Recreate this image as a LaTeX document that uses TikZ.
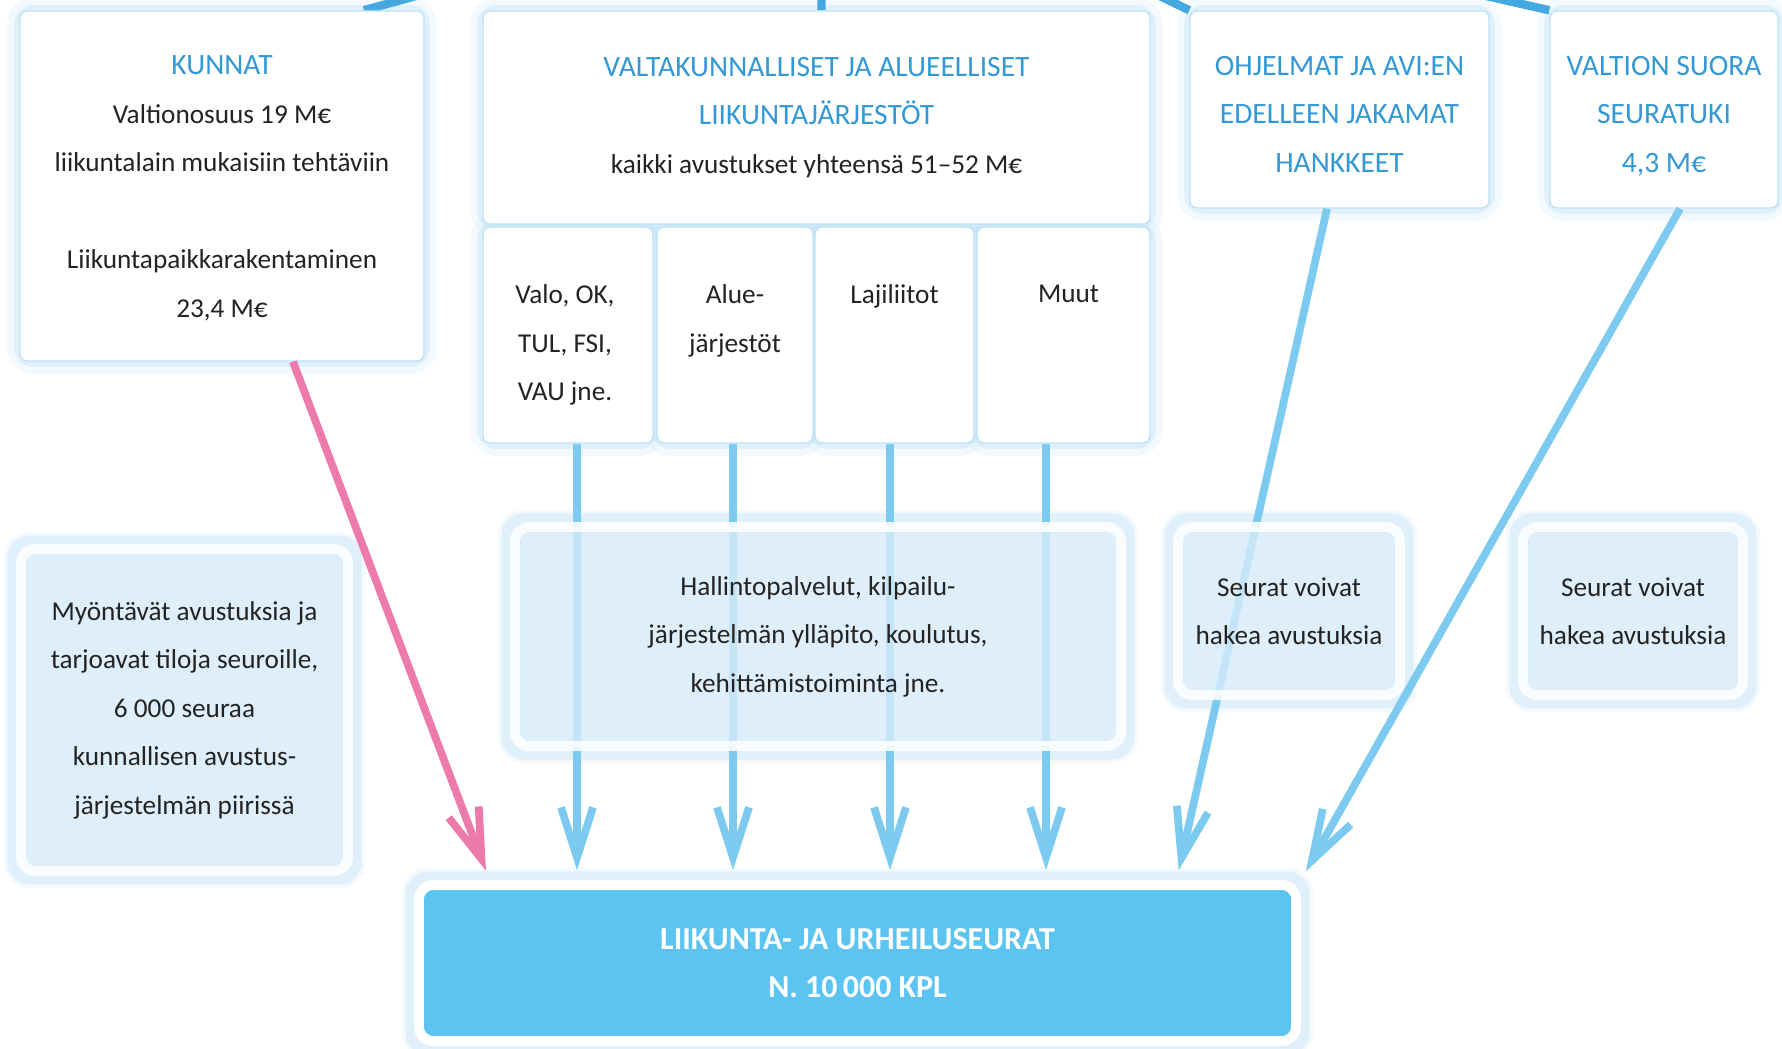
\documentclass[tikz,border=0pt]{standalone}
\usepackage{fontspec}
\setmainfont{Carlito}
\usetikzlibrary{arrows.meta,positioning,calc,backgrounds}

\definecolor{titleblue}{RGB}{52,152,212}
\definecolor{flowblue}{RGB}{125,202,240}
\definecolor{topblue}{RGB}{70,168,224}
\definecolor{flowpink}{RGB}{236,122,170}
\definecolor{paleblue}{RGB}{214,236,250}
\definecolor{clubblue}{RGB}{92,196,240}
\definecolor{glowblue}{RGB}{190,226,246}
\definecolor{inktext}{RGB}{35,35,35}

\newcommand{\ttl}[1]{\textcolor{titleblue}{\fontsize{8.4}{13.8}\selectfont #1}}

\begin{document}
\begin{tikzpicture}
      [font=\fontsize{7.75}{13.8}\selectfont, text=inktext,
       card/.style={rectangle,rounded corners=2pt,draw=glowblue,fill=white,line width=0.4pt,inner sep=0pt,align=center},
       cardtext/.style={anchor=north,align=center,inner sep=0pt},
       note/.style={rectangle,rounded corners=4pt,draw=white,fill=paleblue,line width=2.8pt,inner sep=0pt,align=center,
                    fill opacity=0.8,draw opacity=0.85,text opacity=1},
       club/.style={rectangle,rounded corners=4pt,draw=white,fill=clubblue,line width=2.8pt,inner sep=0pt,align=center,
                    text=white,font=\fontsize{9.1}{13.8}\selectfont\bfseries},
       glow/.style={draw=glowblue,line width=3pt,draw opacity=0.35,rounded corners=4pt,
                    preaction={draw=glowblue,line width=7pt,draw opacity=0.18}},
       flow/.style={draw=flowblue,line width=2.2pt,shorten >=1mm,-{Straight Barb[length=5mm,width=3.2mm]}},
       kflow/.style={flow,draw=flowpink},
       feed/.style={draw=topblue,line width=2.4pt}]
        \useasboundingbox (0,0) rectangle (17.82,-10.49);
        \clip (0,0) rectangle (17.82,-10.49);

        % top row
        \node[card,minimum width=4.04cm,minimum height=3.50cm] (kunnat) at (2.22,-1.86) {};
        \node[cardtext] (kunnat-t) at ([yshift=-0.45cm]kunnat.north)
          {\ttl{KUNNAT}\\Valtionosuus 19 M€\\liikuntalain mukaisiin tehtäviin\\[13.8pt]Liikuntapaikkarakentaminen\\23,4 M€};
        \node[card,minimum width=6.67cm,minimum height=2.13cm] (valta) at (8.165,-1.175)
          {\ttl{VALTAKUNNALLISET JA ALUEELLISET}\\\ttl{LIIKUNTAJÄRJESTÖT}\\kaikki avustukset yhteensä 51–52 M€};
        \node[card,minimum width=2.99cm,minimum height=1.97cm] (ohjelmat) at (13.395,-1.095) {};
        \node[cardtext] (ohjelmat-t) at ([yshift=-0.45cm]ohjelmat.north)
          {\ttl{OHJELMAT JA AVI:EN}\\\ttl{EDELLEEN JAKAMAT}\\\ttl{HANKKEET}};
        \node[card,minimum width=2.28cm,minimum height=1.97cm] (valtion) at (16.64,-1.095) {};
        \node[cardtext] (valtion-t) at ([yshift=-0.45cm]valtion.north)
          {\ttl{VALTION SUORA}\\\ttl{SEURATUKI}\\\ttl{4,3 M€}};

        % member groups
        \node[card,minimum width=1.70cm,minimum height=2.16cm] (valo) at (5.68,-3.35) {};
        \node[card,minimum width=1.56cm,minimum height=2.16cm] (alue) at (7.35,-3.35) {};
        \node[card,minimum width=1.59cm,minimum height=2.16cm] (laji) at (8.945,-3.35) {};
        \node[card,minimum width=1.73cm,minimum height=2.16cm] (muut) at (10.635,-3.35) {};
        \node[cardtext] (valo-t) at ([xshift=-0.03cm,yshift=-0.58cm]valo.north) {Valo, OK,\\TUL, FSI,\\VAU jne.};
        \node[cardtext] (alue-t) at ([yshift=-0.58cm]alue.north) {Alue-\\järjestöt};
        \node[cardtext] (laji-t) at ([yshift=-0.58cm]laji.north) {Lajiliitot};
        \node[cardtext] (muut-t) at ([xshift=0.05cm,yshift=-0.58cm]muut.north) {Muut};

        % clubs
        \node[club,minimum width=8.77cm,minimum height=1.56cm] (club) at (8.575,-9.63)
          {LIIKUNTA- JA URHEILUSEURAT\\N. 10\,000 KPL};

        % money flows
        \draw[kflow] ([xshift=0.71cm]kunnat.south) -- ([xshift=-3.68cm]club.north);
        \draw[flow] ([xshift=0.09cm]valo.south) -- ([xshift=0.09cm]valo.south |- club.north);
        \draw[flow] ([xshift=-0.02cm]alue.south) -- ([xshift=-0.02cm]alue.south |- club.north);
        \draw[flow] ([xshift=-0.045cm]laji.south) -- ([xshift=-0.045cm]laji.south |- club.north);
        \draw[flow] ([xshift=-0.175cm]muut.south) -- ([xshift=-0.175cm]muut.south |- club.north);
        \draw[flow] ([xshift=-0.125cm]ohjelmat.south) -- ([xshift=3.19cm]club.north);
        \draw[flow] ([xshift=0.16cm]valtion.south) -- (club.north east);

        % notes
        \node[note,minimum width=3.27cm,minimum height=3.22cm] (myon) at (1.845,-7.10)
          {Myöntävät avustuksia ja\\tarjoavat tiloja seuroille,\\6~000 seuraa\\kunnallisen avustus-\\järjestelmän piirissä};
        \node[note,minimum width=6.06cm,minimum height=2.19cm] (hallinto) at (8.18,-6.365)
          {Hallintopalvelut, kilpailu-\\järjestelmän ylläpito, koulutus,\\kehittämistoiminta jne.};
        \node[note,minimum width=2.22cm,minimum height=1.68cm] (seurat1) at (12.89,-6.11)
          {Seurat voivat\\hakea avustuksia};
        \node[note,minimum width=2.20cm,minimum height=1.68cm] (seurat2) at (16.33,-6.11)
          {Seurat voivat\\hakea avustuksia};

        \coordinate (inK) at (5.10,0.30);
        \coordinate (inV) at (8.215,0.30);
        \coordinate (inO) at (11.06,0.30);
        \coordinate (inS) at (13.72,0.30);

        \begin{scope}[on background layer]
          \clip (0,0) rectangle (17.82,-10.49);
          \fill[white] (0,0) rectangle (17.82,-10.49);
          \foreach \n in {kunnat,valta,ohjelmat,valtion,valo,alue,laji,muut}
            \draw[glow] (\n.north west) rectangle (\n.south east);
          \foreach \n in {myon,hallinto,seurat1,seurat2,club}
            \draw[glow,line width=5pt,preaction={line width=8pt}] (\n.north west) rectangle (\n.south east);
          % feeds from above
          \draw[feed] (inK) -- ([xshift=1.42cm]kunnat.north);
          \draw[feed] (inV) -- ([xshift=0.05cm]valta.north);
          \draw[feed] (inO) -- (ohjelmat.north west);
          \draw[feed] (inS) -- (valtion.north west);
        \end{scope}
      \end{tikzpicture}
\end{document}
